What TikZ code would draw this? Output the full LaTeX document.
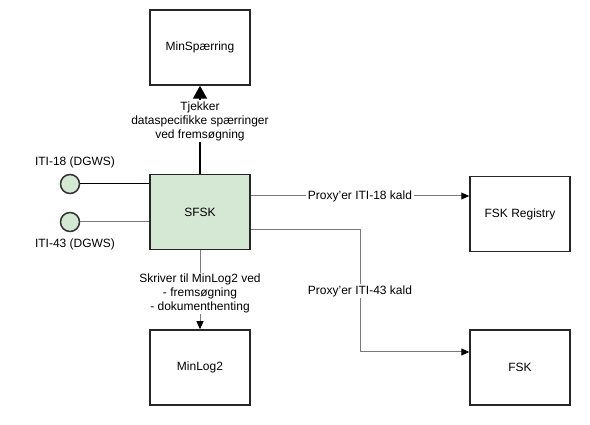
\documentclass[tikz,border=0pt]{standalone}
\usepackage{fontspec}
\setmainfont{Liberation Sans}
\usetikzlibrary{arrows.meta,positioning}
\definecolor{sfskgreen}{HTML}{D5E8D4}
\definecolor{edgegray}{HTML}{7A7A7A}
\tikzset
{
    box/.style   = {rectangle, draw=black!85, line width=1.5pt, align=center, minimum width=100pt, minimum height=75pt, font=\fontsize{12}{14}\selectfont},
    mainbox/.style = {box, fill=sfskgreen},
    port/.style  = {circle, draw=black!80, line width=1.5pt, fill=sfskgreen, minimum size=19pt, inner sep=0pt},
    link/.style  = {draw=edgegray, line width=1pt, -{Triangle[length=8pt, width=7pt, color=black]}},
    tag/.style   = {fill=white, align=center, inner sep=1pt, font=\fontsize{12}{14}\selectfont},
    plain/.style = {align=center, inner sep=0pt, font=\fontsize{12}{14}\selectfont}
}

\begin{document}
\begin{tikzpicture}[x=1pt, y=-1pt]
\useasboundingbox (0,0) rectangle (590,425);

\node[box] (spaerring) at (200,47.5) {MinSpærring};
\node[mainbox] (sfsk) at (200,212) {SFSK};
\node[box] (registry) at (520,214) {FSK Registry};
\node[box] (minlog) at (200,367.5) {MinLog2};
\node[box] (fsk) at (520,367.5) {FSK};

\node[port] (iti18) at (70,184) {};
\node[port] (iti43) at (70,222) {};
\node[plain] (iti18txt) at (75,162) {ITI-18 (DGWS)};
\node[plain] (iti43txt) at (75,244) {ITI-43 (DGWS)};

\coordinate (bendtop) at (360,230);
\coordinate (bendlow) at (360,352);

% calls into SFSK
\draw[black, line width=1pt] (iti18) -- (iti18 -| sfsk.west);
\draw[edgegray, line width=1pt] (iti43) -- (iti43 -| sfsk.west);

% SFSK to MinSpaerring and MinLog2
\draw[black, line width=2pt, -{Triangle[length=13pt, width=14pt]}] (sfsk) -- (spaerring)
    node[tag, pos=0.6] {Tjekker\\dataspecifikke spærringer\\ved fremsøgning};
\draw[link] (sfsk) -- (minlog)
    node[tag, pos=0.55] {Skriver til MinLog2 ved\\- fremsøgning\\- dokumenthenting};

% proxy calls
\draw[link] (sfsk.east |- 0,196) -- (registry.west |- 0,196)
    node[tag, midway, inner sep=2pt] {Proxy'er ITI-18 kald};
\draw[link] (sfsk.east |- bendtop) -- (bendtop) -- (bendlow)
    node[tag, pos=0.5] {Proxy'er ITI-43 kald} -- (bendlow -| fsk.west);
\end{tikzpicture}
\end{document}
